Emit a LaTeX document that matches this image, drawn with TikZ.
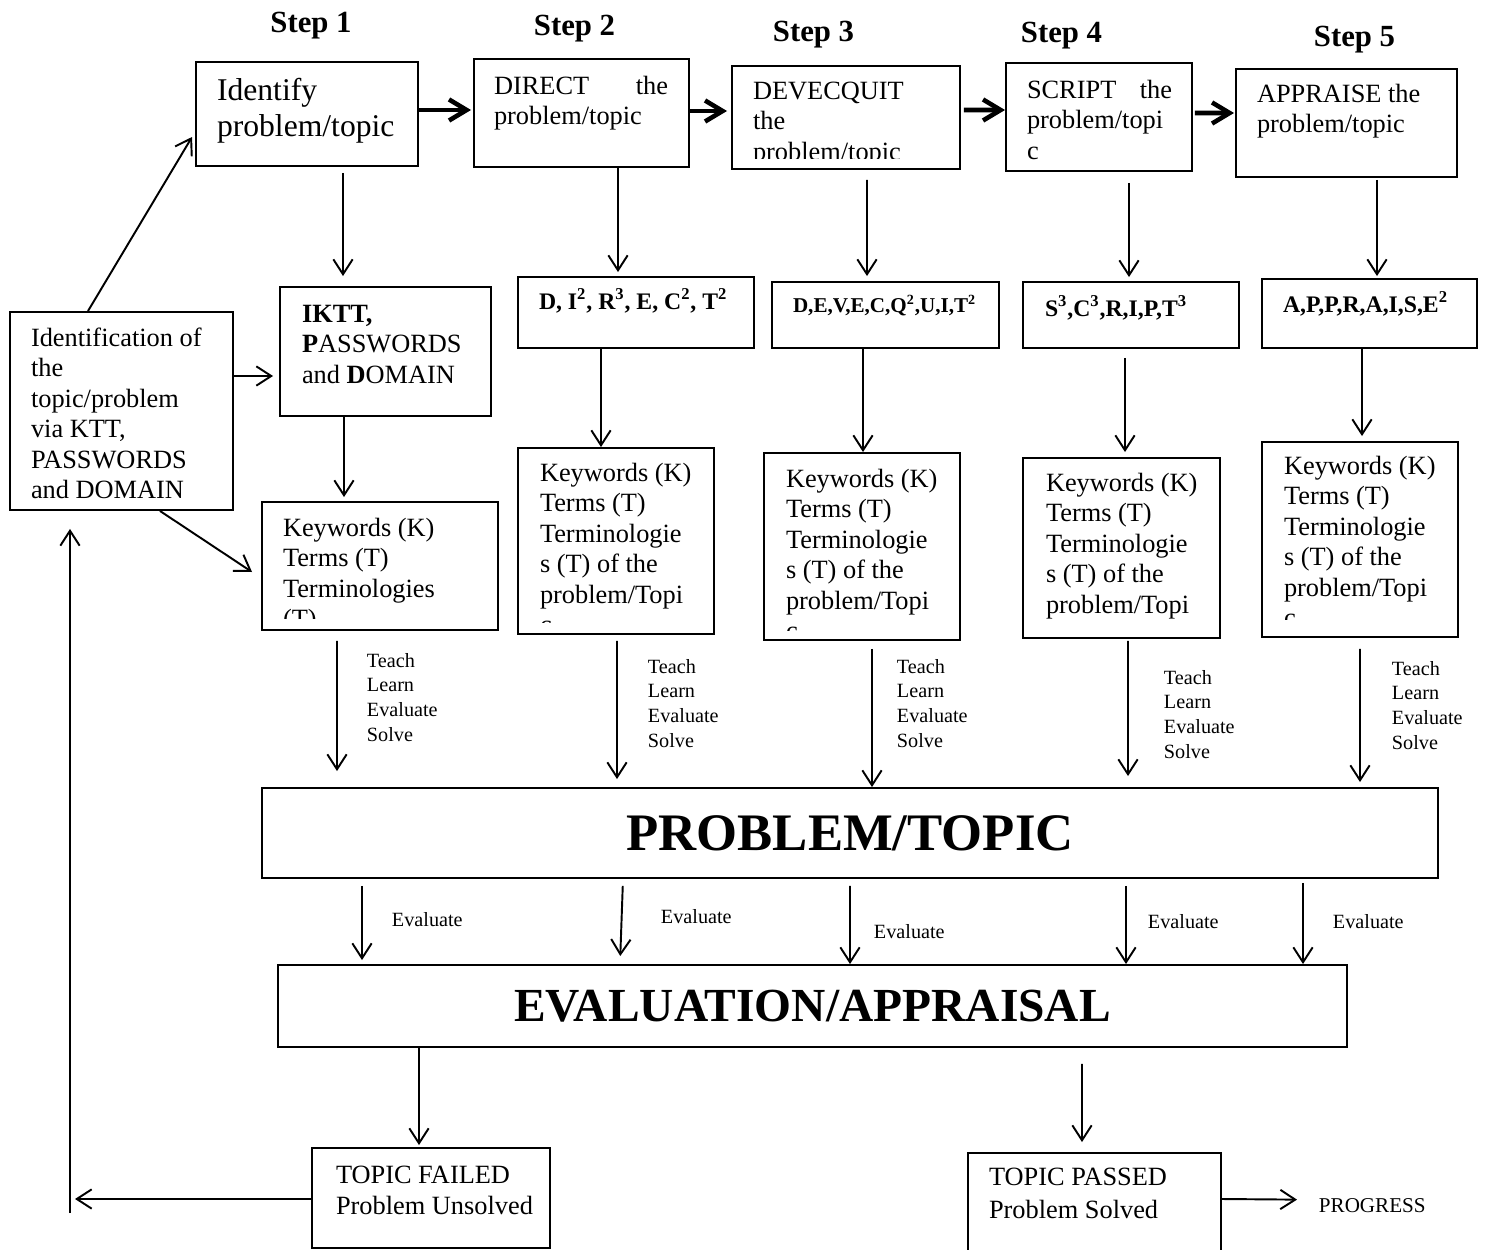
\documentclass[tikz,border=0pt]{standalone}
\usepackage{fontspec}
\setmainfont{Liberation Serif}
\usetikzlibrary{arrows.meta,positioning,calc}

\begin{document}
\begin{tikzpicture}[
    line width=1.1pt,
    box/.style={
        draw=black,
        line width=1.1pt,
        inner sep=0pt
    },
    txt/.style={
        anchor=base west,
        inner sep=0pt,
        align=left,
        font=\fontsize{15}{17.3}\selectfont
    },
    bigtxt/.style={
        anchor=base west,
        inner sep=0pt,
        align=left,
        font=\fontsize{18}{20}\selectfont
    },
    code/.style={
        anchor=base west,
        inner sep=0pt,
        font=\fontsize{13.5}{16}\selectfont\bfseries
    },
    steplbl/.style={
        anchor=base,
        inner sep=0pt,
        font=\fontsize{17.5}{20}\selectfont\bfseries
    },
    lbl/.style={
        anchor=base west,
        inner sep=0pt,
        align=left,
        font=\fontsize{11.5}{14}\selectfont
    },
    arr/.style={-{Straight Barb[length=8.5pt,width=11pt]}, line width=1.1pt},
    harr/.style={-{Straight Barb[length=10pt,width=12pt]}, line width=2.6pt}
]
\useasboundingbox (0,0) rectangle (29.7,-25);

% step headings
\node[steplbl] (h1) at (6.22,-0.66) {Step 1};
\node[steplbl] (h2) at (11.49,-0.72) {Step 2};
\node[steplbl] (h3) at (16.27,-0.84) {Step 3};
\node[steplbl] (h4) at (21.23,-0.86) {Step 4};
\node[steplbl] (h5) at (27.09,-0.94) {Step 5};

% first row: steps
\node[box, minimum width=4.44cm, minimum height=2.08cm] (s1) at (6.14,-2.28) {};
\node[box, minimum width=4.30cm, minimum height=2.16cm] (s2) at (11.63,-2.26) {};
\node[box, minimum width=4.56cm, minimum height=2.06cm] (s3) at (16.92,-2.35) {};
\node[box, minimum width=3.72cm, minimum height=2.16cm] (s4) at (21.98,-2.34) {};
\node[box, minimum width=4.42cm, minimum height=2.16cm] (s5) at (26.93,-2.46) {};

% (text nodes sit on their last baseline)
\node[bigtxt] (s1t) at ([xshift=0.42cm,yshift=-1.50cm]s1.north west)
{Identify\\problem/topic};
\node[txt] (s2t) at ([xshift=0.40cm,yshift=-1.33cm]s2.north west)
{\makebox[3.48cm][l]{DIRECT\hfill the}\\problem/topic};
\begin{scope}
\clip (s3.north west) rectangle ([yshift=0.22cm]s3.south east);
\node[txt] (s3t) at ([xshift=0.42cm,yshift=-1.90cm]s3.north west)
{DEVECQUIT\\the\\problem/topic};
\end{scope}
\node[txt] (s4t) at ([xshift=0.42cm,yshift=-1.94cm]s4.north west)
{\makebox[2.90cm][l]{SCRIPT\hfill the}\\problem/topi\\c};
\node[txt] (s5t) at ([xshift=0.42cm,yshift=-1.29cm]s5.north west)
{APPRAISE the\\problem/topic};

% second row: codes
\node[box, minimum width=4.22cm, minimum height=2.58cm] (c1) at (7.71,-7.03) {};
\node[box, minimum width=4.72cm, minimum height=1.42cm] (c2) at (12.72,-6.25) {};
\node[box, minimum width=4.54cm, minimum height=1.32cm] (c3) at (17.71,-6.30) {};
\node[box, minimum width=4.32cm, minimum height=1.32cm] (c4) at (22.62,-6.30) {};
\node[box, minimum width=4.30cm, minimum height=1.38cm] (c5) at (27.39,-6.27) {};

\node[txt] (c1t) at ([xshift=0.44cm,yshift=-1.94cm]c1.north west)
{\textbf{IKTT,}\\\textbf{P}ASSWORDS\\and \textbf{D}OMAIN};
\node[code] (c2t) at ([xshift=0.42cm,yshift=-0.66cm]c2.north west)
{D, I\textsuperscript{2}, R\textsuperscript{3}, E, C\textsuperscript{2}, T\textsuperscript{2}};
\node[code, font=\fontsize{12}{14}\selectfont\bfseries] (c3t) at ([xshift=0.42cm,yshift=-0.62cm]c3.north west)
{D,E,V,E,C,Q\textsuperscript{2},U,I,T\textsuperscript{2}};
\node[code] (c4t) at ([xshift=0.44cm,yshift=-0.70cm]c4.north west)
{S\textsuperscript{3},C\textsuperscript{3},R,I,P,T\textsuperscript{3}};
\node[code] (c5t) at ([xshift=0.42cm,yshift=-0.68cm]c5.north west)
{A,P,P,R,A,I,S,E\textsuperscript{2}};

% side box
\node[box, minimum width=4.46cm, minimum height=3.96cm] (L) at (2.43,-8.22) {};
\node[txt] (Lt) at ([xshift=0.42cm,yshift=-3.75cm]L.north west)
{Identification of\\the\\topic/problem\\via KTT,\\PASSWORDS\\and DOMAIN};

% third row: keywords
\node[box, minimum width=4.72cm, minimum height=2.56cm] (k1) at (7.60,-11.32) {};
\node[box, minimum width=3.92cm, minimum height=3.72cm] (k2) at (12.32,-10.82) {};
\node[box, minimum width=3.92cm, minimum height=3.74cm] (k3) at (17.24,-10.93) {};
\node[box, minimum width=3.94cm, minimum height=3.60cm] (k4) at (22.43,-10.96) {};
\node[box, minimum width=3.92cm, minimum height=3.90cm] (k5) at (27.20,-10.79) {};

\begin{scope}
\clip (k1.north west) rectangle ([yshift=0.24cm]k1.south east);
\node[txt] (k1t) at ([xshift=0.42cm,yshift=-2.53cm]k1.north west)
{Keywords (K)\\Terms (T)\\Terminologies\\(T)};
\end{scope}
\begin{scope}
\clip (k2.north west) rectangle ([yshift=0.24cm]k2.south east);
\node[txt] (k2t) at ([xshift=0.44cm,yshift=-3.73cm]k2.north west)
{Keywords (K)\\Terms (T)\\Terminologie\\s (T) of the\\problem/Topi\\c};
\end{scope}
\begin{scope}
\clip (k3.north west) rectangle ([yshift=0.20cm]k3.south east);
\node[txt] (k3t) at ([xshift=0.44cm,yshift=-3.75cm]k3.north west)
{Keywords (K)\\Terms (T)\\Terminologie\\s (T) of the\\problem/Topi\\c};
\end{scope}
\begin{scope}
\clip (k4.north west) rectangle ([yshift=0.26cm]k4.south east);
\node[txt] (k4t) at ([xshift=0.46cm,yshift=-3.73cm]k4.north west)
{Keywords (K)\\Terms (T)\\Terminologie\\s (T) of the\\problem/Topi\\c};
\end{scope}
\begin{scope}
\clip (k5.north west) rectangle ([yshift=0.36cm]k5.south east);
\node[txt] (k5t) at ([xshift=0.44cm,yshift=-3.71cm]k5.north west)
{Keywords (K)\\Terms (T)\\Terminologie\\s (T) of the\\problem/Topi\\c};
\end{scope}

% big boxes
\node[box, minimum width=23.52cm, minimum height=1.80cm,
      font=\fontsize{30}{34}\selectfont\bfseries] (P) at (17.00,-16.66) {PROBLEM/TOPIC};
\node[box, minimum width=21.38cm, minimum height=1.64cm,
      font=\fontsize{27}{31}\selectfont\bfseries] (E) at (16.25,-20.12) {EVALUATION/APPRAISAL};

% outcome boxes
\node[box, minimum width=4.76cm, minimum height=2.00cm] (failed) at (8.62,-23.96) {};
\node[box, minimum width=5.06cm, minimum height=2.02cm] (passed) at (21.89,-24.07) {};
\node[txt] (failedt) at ([xshift=0.48cm,yshift=-1.34cm]failed.north west)
{TOPIC FAILED\\Problem Unsolved};
\node[txt, font=\fontsize{15}{18.7}\selectfont] (passedt) at ([xshift=0.42cm,yshift=-1.32cm]passed.north west)
{TOPIC PASSED\\Problem Solved};
\node[lbl, font=\fontsize{12}{14}\selectfont] (prog) at (26.36,-24.25) {PROGRESS};

% labels on arrows
\node[lbl] (tl1) at (7.32,-14.82) {Teach\\Learn\\Evaluate\\Solve};
\node[lbl] (tl2) at (12.94,-14.94) {Teach\\Learn\\Evaluate\\Solve};
\node[lbl] (tl3) at (17.92,-14.94) {Teach\\Learn\\Evaluate\\Solve};
\node[lbl] (tl4) at (23.26,-15.16) {Teach\\Learn\\Evaluate\\Solve};
\node[lbl] (tl5) at (27.82,-14.98) {Teach\\Learn\\Evaluate\\Solve};

\node[lbl] (ev1) at (7.82,-18.52) {Evaluate};
\node[lbl] (ev2) at (13.20,-18.46) {Evaluate};
\node[lbl] (ev3) at (17.46,-18.76) {Evaluate};
\node[lbl] (ev4) at (22.94,-18.56) {Evaluate};
\node[lbl] (ev5) at (26.64,-18.56) {Evaluate};

% step to step
\draw[harr] ([yshift=0.08cm]s1.east) -- ([xshift=-0.04cm,yshift=0.06cm]s2.west);
\draw[harr] ([yshift=0.04cm]s2.east) -- ([xshift=-0.08cm,yshift=0.13cm]s3.west);
\draw[harr] ([xshift=0.06cm,yshift=0.15cm]s3.east) -- ([yshift=0.14cm]s4.west);
\draw[harr] ([xshift=0.04cm,yshift=0.08cm]s4.east) -- ([xshift=-0.02cm,yshift=0.20cm]s5.west);

% steps to codes
\draw[arr, shorten <=0.12cm, shorten >=0.20cm] ([xshift=0.72cm]s1.south) -- ([xshift=-0.85cm]c1.north);
\draw[arr, shorten >=0.08cm] ([xshift=0.73cm]s2.south) -- ([xshift=-0.36cm]c2.north);
\draw[arr, shorten <=0.20cm, shorten >=0.10cm] ([xshift=0.42cm]s3.south) -- ([xshift=-0.37cm]c3.north);
\draw[arr, shorten <=0.22cm, shorten >=0.08cm] ([xshift=0.60cm]s4.south) -- ([xshift=-0.04cm]c4.north);
\draw[arr, shorten <=0.04cm, shorten >=0.04cm] ([xshift=0.61cm]s5.south) -- ([xshift=0.15cm]c5.north);

% codes to keywords
\draw[arr, shorten >=0.08cm] ([xshift=-0.83cm]c1.south) -- ([xshift=-0.72cm]k1.north);
\draw[arr] ([xshift=-0.70cm]c2.south) -- ([xshift=-0.30cm]k2.north);
\draw[arr] ([xshift=-0.45cm]c3.south) -- ([xshift=0.02cm]k3.north);
\draw[arr, shorten <=0.18cm, shorten >=0.10cm] ([xshift=-0.12cm]c4.south) -- ([xshift=0.07cm]k4.north);
\draw[arr, shorten >=0.10cm] ([xshift=-0.15cm]c5.south) -- ([xshift=0.04cm]k5.north);

% side box links
\draw[arr] ([xshift=-0.67cm]L.north) -- ([xshift=-0.06cm,yshift=-0.46cm]s1.west);
\draw[arr, shorten >=0.12cm] ([yshift=0.70cm]L.east) -- ([yshift=-0.49cm]c1.west);
\draw[arr] ([xshift=0.77cm]L.south) -- ([xshift=-0.18cm,yshift=-0.12cm]k1.west);

% keywords to problem/topic
\draw[arr, shorten <=0.20cm, shorten >=0.32cm] ([xshift=-0.86cm]k1.south) -- ([xshift=-10.26cm]P.north);
\draw[arr, shorten <=0.12cm, shorten >=0.16cm] ([xshift=0.02cm]k2.south) -- ([xshift=-4.66cm]P.north);
\draw[arr, shorten <=0.16cm] ([xshift=0.20cm]k3.south) -- ([xshift=0.44cm]P.north);
\draw[arr, shorten <=0.04cm, shorten >=0.22cm] ([xshift=0.13cm]k4.south) -- ([xshift=5.56cm]P.north);
\draw[arr, shorten <=0.22cm, shorten >=0.10cm] (k5.south) -- ([xshift=10.20cm]P.north);

% problem/topic to evaluation
\draw[arr, shorten <=0.14cm, shorten >=0.08cm] ([xshift=-9.76cm]P.south) -- ([xshift=-9.01cm]E.north);
\draw[arr, shorten <=0.14cm, shorten >=0.16cm] ([xshift=-4.54cm]P.south) -- ([xshift=-3.85cm]E.north);
\draw[arr, shorten <=0.14cm] ([xshift=0.00cm]P.south) -- ([xshift=0.75cm]E.north);
\draw[arr, shorten <=0.14cm] ([xshift=5.52cm]P.south) -- ([xshift=6.27cm]E.north);
\draw[arr, shorten <=0.08cm] ([xshift=9.06cm]P.south) -- ([xshift=9.81cm]E.north);

% outcomes
\draw[arr, shorten >=0.04cm] ([xshift=-7.87cm]E.south) -- ([xshift=-0.24cm]failed.north);
\draw[arr, shorten <=0.32cm, shorten >=0.20cm] ([xshift=5.39cm]E.south) -- ([xshift=-0.25cm]passed.north);
\draw[arr] ([yshift=0.09cm]passed.east) -- ([xshift=-0.42cm,yshift=0.12cm]prog.west);

% back to the start
\coordinate (fl) at (1.50,-23.98);
\coordinate (lb) at (1.40,-24.26);
\draw[arr] ([yshift=-0.02cm]failed.west) -- (fl);
\draw[arr, shorten >=0.36cm] (lb) -- (lb |- L.south);

\end{tikzpicture}
\end{document}
